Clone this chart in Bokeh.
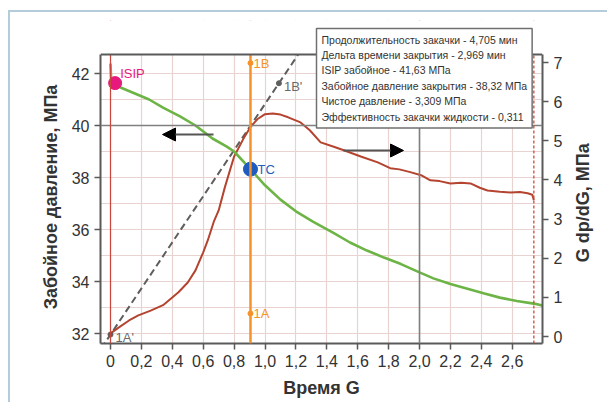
import math
from bokeh.plotting import figure
from bokeh.models import (Range1d, LinearAxis, FixedTicker, Span, Label, Arrow,
                          NormalHead, BoxAnnotation, InlineStyleSheet)
from bokeh.embed import file_html
from bokeh.resources import INLINE

# ---------------- data ----------------
green_g = [0.0, 0.004, 0.03, 0.065, 0.15, 0.25, 0.34, 0.45, 0.55, 0.66, 0.75, 0.80,
           0.906, 1.0, 1.1, 1.2, 1.31, 1.44, 1.55, 1.66, 1.77, 1.88, 2.0, 2.09, 2.2,
           2.31, 2.42, 2.52, 2.63, 2.74, 2.8]
green_p = [42.38, 41.8, 41.63, 41.46, 41.25, 41.0, 40.69, 40.35, 40.0, 39.5, 39.2, 39.0,
           38.32, 37.7, 37.15, 36.7, 36.3, 35.88, 35.5, 35.19, 34.92, 34.67, 34.35, 34.12,
           33.9, 33.72, 33.54, 33.38, 33.25, 33.15, 33.07]

red_g = [0.0, 0.05, 0.12, 0.18, 0.26, 0.34, 0.44, 0.50, 0.55, 0.60, 0.63, 0.67, 0.70,
         0.74, 0.80, 0.86, 0.906, 0.95, 1.0, 1.05, 1.10, 1.15, 1.23, 1.29, 1.36, 1.45,
         1.51, 1.62, 1.73, 1.81, 1.87, 1.94, 2.01, 2.07, 2.13, 2.2, 2.27, 2.33, 2.39,
         2.44, 2.52, 2.59, 2.65, 2.70, 2.73, 2.74]
red_v = [0.08, 0.22, 0.41, 0.54, 0.66, 0.80, 1.13, 1.38, 1.69, 2.15, 2.46, 2.95, 3.22,
         3.81, 4.6, 5.05, 5.35, 5.55, 5.68, 5.70, 5.67, 5.60, 5.47, 5.27, 4.96, 4.84,
         4.76, 4.60, 4.45, 4.30, 4.27, 4.20, 4.12, 3.99, 3.97, 3.91, 3.93, 3.91, 3.80,
         3.73, 3.70, 3.68, 3.69, 3.66, 3.62, 3.48]

tangent_g = [0.0, 1.09]        # 1A', 1B'
tangent_v = [0.05, 6.47]
tangent_names = ["1A'", "1B'"]

closure_g = 0.906              # orange line (closure)
closure_pts_p = [32.77, 42.4]  # 1A, 1B
closure_names = ["1A", "1B"]

isip_g, isip_p = 0.03, 41.63
tc_g, tc_p = 0.906, 38.32
start_g, end_g = 0.0, 2.74

x_ticks = [0, 0.2, 0.4, 0.6, 0.8, 1.0, 1.2, 1.4, 1.6, 1.8, 2.0, 2.2, 2.4, 2.6]
x_tick_labels = ["0", "0,2", "0,4", "0,6", "0,8", "1,0", "1,2", "1,4", "1,6", "1,8",
                 "2,0", "2,2", "2,4", "2,6"]
yl_ticks = [32, 34, 36, 38, 40, 42]
yr_ticks = [0, 1, 2, 3, 4, 5, 6, 7]

x_title = "Время G"
yl_title = "Забойное давление, МПа"
yr_title = "G dp/dG, МПа"

info_lines = [
    "Продолжительность закачки - 4,705 мин",
    "Дельта времени закрытия - 2,969 мин",
    "ISIP забойное - 41,63 МПа",
    "Забойное давление закрытия - 38,32 МПа",
    "Чистое давление - 3,309 МПа",
    "Эффективность закачки жидкости - 0,311",
]

# ---------------- layout ----------------
W, H = 607, 402
FL, FR, FB = 100, 542, 343
FT = 20            # canvas frame top (room for the box above the plot)
PT = 54            # visible plot top border
YL0 = 32 - (FB - 333) / 26.0
YL1 = 32 + (333 - FT) / 26.0
YR0 = -(FB - 336) / 39.14
YR1 = (336 - FT) / 39.14
X0, X1 = -0.0647, 2.796


def X(px):
    return X0 + (px - FL) / (FR - FL) * (X1 - X0)


def Y(py):
    return YL0 + (FB - py) / (FB - FT) * (YL1 - YL0)


def YR(py):
    return YR0 + (FB - py) / (FB - FT) * (YR1 - YR0)


FONT = "Liberation Sans"
AX = "#5a5a5a"
TXT = "#333333"
PAD = "\u00a0" * 6   # keeps the left title centred on the visible plot height
RT_POS = 1.9         # where the right-hand title starts (right-axis units)

p = figure(width=W, height=H, x_range=Range1d(X0, X1), y_range=Range1d(YL0, YL1),
           output_backend="svg", toolbar_location=None,
           min_border_left=FL, min_border_right=W - FR,
           min_border_top=FT, min_border_bottom=H - FB)
p.extra_y_ranges = {"r": Range1d(YR0, YR1)}
p.outline_line_color = None
p.background_fill_color = "white"
p.border_fill_color = "white"

# grid
p.xgrid.ticker = FixedTicker(ticks=x_ticks)
p.ygrid.ticker = FixedTicker(ticks=list(range(32, 43)))
p.xgrid.grid_line_color = "#e9d3d0"
p.ygrid.grid_line_color = "#e9d3d0"
p.xgrid.grid_line_width = 1.2
p.ygrid.grid_line_width = 1.2

# axes
p.xaxis.ticker = FixedTicker(ticks=x_ticks)
p.xaxis.major_label_overrides = {t: l for t, l in zip(x_ticks, x_tick_labels)}
p.xaxis.axis_label = x_title
p.xaxis.axis_label_standoff = 8

p.yaxis.ticker = FixedTicker(ticks=yl_ticks)
p.yaxis.axis_label = yl_title + PAD
p.yaxis.axis_label_standoff = 8
p.yaxis.bounds = (YL0, Y(PT))

raxis = LinearAxis(y_range_name="r", ticker=FixedTicker(ticks=yr_ticks))
raxis.bounds = (YR0, YR(PT))
p.add_layout(raxis, "right")

for ax in [p.xaxis[0], p.yaxis[0], raxis]:
    ax.axis_line_color = AX
    ax.axis_line_width = 2
    ax.major_tick_line_color = AX
    ax.major_tick_line_width = 1.5
    ax.major_tick_out = 6
    ax.major_tick_in = 0
    ax.minor_tick_out = 0
    ax.minor_tick_in = 0
    ax.major_label_text_font = FONT
    ax.major_label_text_font_size = "16px"
    ax.major_label_text_color = TXT
    ax.major_label_standoff = 5
    ax.axis_label_text_font = FONT
    ax.axis_label_text_font_style = "bold"
    ax.axis_label_text_font_size = "18px"
    ax.axis_label_text_color = TXT

# right-hand title, reading bottom to top (drawn by an outer right axis)
rtitle = LinearAxis(y_range_name="r", ticker=FixedTicker(ticks=[RT_POS]),
                    major_label_overrides={RT_POS: yr_title},
                    major_label_orientation=math.pi / 2)
rtitle.axis_line_color = None
rtitle.major_tick_line_color = None
rtitle.minor_tick_line_color = None
rtitle.major_tick_out = 0
rtitle.minor_tick_out = 0
rtitle.major_label_standoff = 18
rtitle.major_label_text_font = FONT
rtitle.major_label_text_font_style = "bold"
rtitle.major_label_text_font_size = "18px"
rtitle.major_label_text_color = TXT
p.add_layout(rtitle, "right")

# special grid lines
p.add_layout(Span(location=40, dimension="width", line_color="#808080", line_width=1.6))
p.add_layout(Span(location=2.0, dimension="height", line_color="#808080", line_width=1.6))

# red boundary lines
p.add_layout(Span(location=start_g, dimension="height", line_color="#c8473a", line_width=1.2))
p.add_layout(Span(location=end_g, dimension="height", line_color="#d0483a", line_width=1.3,
                  line_dash="3 2"))

# closure orange line
p.add_layout(Span(location=closure_g, dimension="height", line_color="#f5922a", line_width=2.5))

# tangent dashed line (extended through the two tangent points)
slope = (tangent_v[1] - tangent_v[0]) / (tangent_g[1] - tangent_g[0])
ext_g = [-0.1, 1.45]
ext_v = [tangent_v[0] + slope * (g - tangent_g[0]) for g in ext_g]
p.line(ext_g, ext_v, y_range_name="r", line_color="#5e5e5e", line_width=2, line_dash="7 4")

# curves
p.line(red_g, red_v, y_range_name="r", line_color="#b4442f", line_width=2)
p.line(green_g, green_p, line_color="#6db446", line_width=2.6)

# points
p.scatter(tangent_g, tangent_v, y_range_name="r", size=5, color="#5e5e5e")
p.scatter([closure_g] * 2, closure_pts_p, size=5, color="#f5922a")
p.scatter([isip_g], [isip_p], size=13, color="#e8197d")
p.scatter([tc_g], [tc_p], size=14, color="#1f5cc0")

lab_font = dict(text_font=FONT, text_font_size="13px", text_baseline="middle",
                text_align="left")
p.add_layout(Label(x=isip_g, y=isip_p, x_offset=5, y_offset=10, text="ISIP",
                   text_color="#e8197d", **lab_font))
p.add_layout(Label(x=tc_g, y=tc_p, x_offset=7, y_offset=0, text="TC",
                   text_color="#1f5cc0", **lab_font))
for v, n in zip(closure_pts_p, closure_names):
    p.add_layout(Label(x=closure_g, y=v, x_offset=3, text=n, text_color="#f5922a",
                       **lab_font))
for g, v, n in zip(tangent_g, tangent_v, tangent_names):
    p.add_layout(Label(x=g, y=v, y_range_name="r", x_offset=5, y_offset=-3, text=n,
                       text_color="#6a6a6a", **lab_font))

# arrows
p.add_layout(Arrow(end=NormalHead(size=13, fill_color="black", line_color="black"),
                   x_start=X(213), y_start=Y(134), x_end=X(162), y_end=Y(134),
                   line_color="#555555", line_width=2))
p.add_layout(Arrow(end=NormalHead(size=13, fill_color="black", line_color="black"),
                   x_start=X(343), y_start=Y(150), x_end=X(403), y_end=Y(150),
                   line_color="#555555", line_width=2))

# white strip above the plot area, and plot top border
p.add_layout(BoxAnnotation(bottom=Y(PT), fill_color="white", fill_alpha=1,
                           line_color=None))
p.add_layout(Span(location=Y(PT), dimension="width", line_color=AX, line_width=2))

# info box
p.add_layout(Label(x=X(316), y=Y(28), text="\n".join(info_lines), text_align="left",
                   text_baseline="top", text_font=FONT, text_font_size="10.5px",
                   text_color=TXT, text_line_height=1.29,
                   background_fill_color="white", border_line_color="#707070",
                   border_line_width=1.5, padding=5))

# outer light-blue frame lines (left and top)
p.stylesheets = [InlineStyleSheet(css=(
    ":host { position: relative; }"
    ":host::after { content: ''; position: absolute; left: 8px; top: 10px; right: 0; "
    "bottom: 0; border-left: 2px solid #b3cddb; border-top: 2px solid #b3cddb; "
    "pointer-events: none; }"))]

open("out.html", "w").write(file_html(p, INLINE))
